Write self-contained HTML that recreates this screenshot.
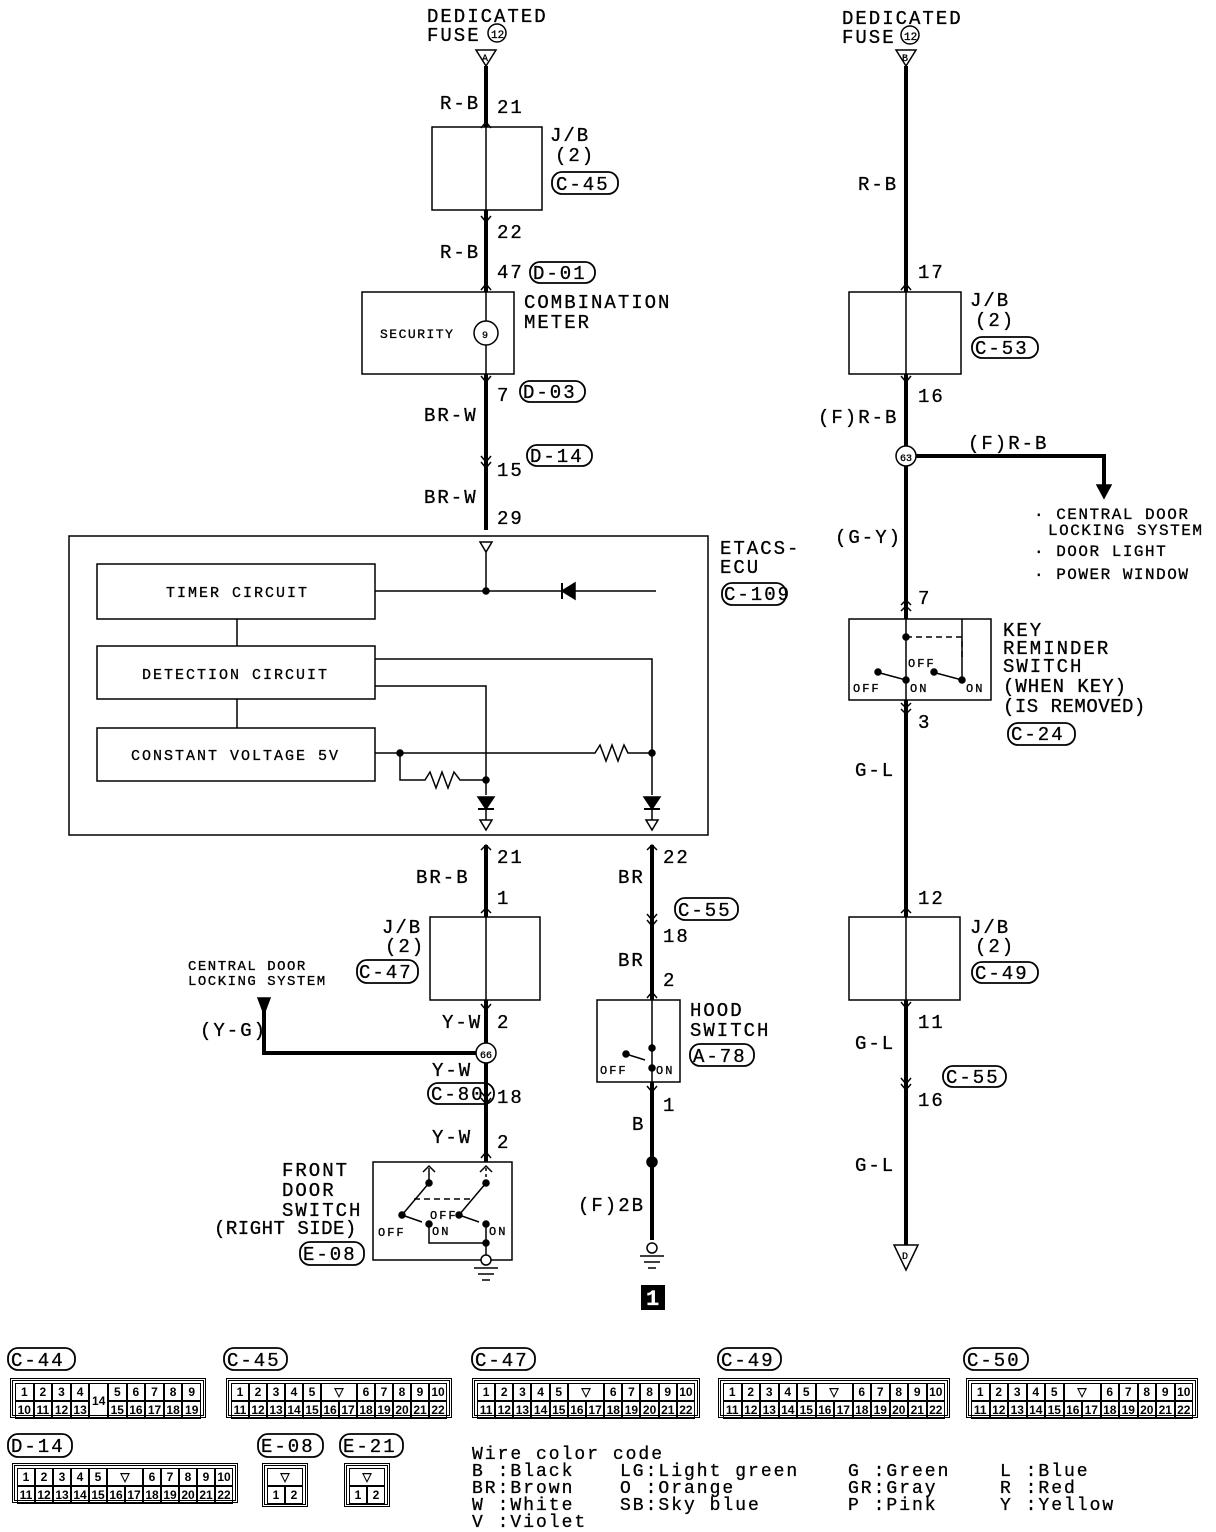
<!DOCTYPE html>
<html><head><meta charset="utf-8"><style>
body{margin:0;background:#fff;}
#w{position:relative;width:1216px;height:1532px;overflow:hidden;background:#fff;font-family:"Liberation Mono",monospace;}
svg{position:absolute;left:0;top:0;}
svg text{font-family:"Liberation Mono",monospace;font-size:19px;fill:#000;letter-spacing:2px;stroke:#000;stroke-width:0.3px;}
.cn{position:absolute;border:3px double #000;padding:2px;box-sizing:border-box;display:grid;grid-template-rows:1fr 1fr;gap:0;}
.cn span{border:1px solid #000;font-size:12px;font-weight:bold;text-align:center;line-height:16px;font-family:"Liberation Sans",sans-serif;}
</style></head><body><div id="w">
<svg width="1216" height="1532" viewBox="0 0 1216 1532">
<g stroke="#000" fill="none" stroke-width="1.5">
<line x1="486" y1="66" x2="486" y2="530" stroke-width="4"/>
<line x1="486" y1="845" x2="486" y2="1162" stroke-width="4"/>
<line x1="652" y1="845" x2="652" y2="1240" stroke-width="4"/>
<line x1="906" y1="66" x2="906" y2="1245" stroke-width="4"/>
<polygon points="476,50 496,50 486,66" fill="#fff"/>
<polygon points="896,50 916,50 906,66" fill="#fff"/>
<polygon points="894,1245 918,1245 906,1270" fill="#fff"/>
<circle cx="497" cy="33" r="9"/><circle cx="910" cy="35" r="9"/>
<rect x="432" y="127" width="110" height="83" fill="#fff"/>
<line x1="486" y1="118" x2="486" y2="222"/>
<rect x="362" y="292" width="152" height="82" fill="#fff"/>
<line x1="486" y1="284" x2="486" y2="382"/>
<circle cx="486" cy="333" r="12" fill="#fff"/>
<rect x="849" y="292" width="112" height="82" fill="#fff"/>
<line x1="906" y1="284" x2="906" y2="382"/>
<rect x="430" y="917" width="110" height="83" fill="#fff"/>
<line x1="486" y1="908" x2="486" y2="1010"/>
<rect x="849" y="917" width="111" height="83" fill="#fff"/>
<line x1="906" y1="908" x2="906" y2="1010"/>
<rect x="69" y="536" width="639" height="299" fill="#fff"/>
<polygon points="480,542 492,542 486,552"/>
<rect x="97" y="564" width="278" height="55"/>
<rect x="97" y="646" width="278" height="53"/>
<rect x="97" y="728" width="278" height="53"/>
<line x1="237" y1="619" x2="237" y2="646"/><line x1="237" y1="699" x2="237" y2="728"/>
<line x1="486" y1="552" x2="486" y2="591"/>
<polyline points="375,591 656,591"/>
<circle cx="486" cy="591" r="3" fill="#000"/>
<polygon points="575,583 575,599 562,591" fill="#000"/><line x1="562" y1="583" x2="562" y2="599" stroke-width="2"/>
<polyline points="375,659 652,659 652,795"/>
<polyline points="375,686 486,686 486,795"/>
<polyline points="375,753 595,753 600,745 606,761 612,745 618,761 624,745 628,753 652,753"/>
<circle cx="400" cy="753" r="3" fill="#000"/><circle cx="486" cy="780" r="3" fill="#000"/><circle cx="652" cy="753" r="3" fill="#000"/>
<polyline points="400,753 400,780 425,780 430,772 436,788 442,772 448,788 454,772 460,780 486,780"/>
<polygon points="478,797 494,797 486,809" fill="#000"/><line x1="478" y1="809" x2="494" y2="809" stroke-width="2"/>
<polygon points="644,797 660,797 652,809" fill="#000"/><line x1="644" y1="809" x2="660" y2="809" stroke-width="2"/>
<line x1="486" y1="809" x2="486" y2="820"/><polygon points="480,820 492,820 486,830"/>
<line x1="652" y1="809" x2="652" y2="820"/><polygon points="646,820 658,820 652,830"/>
<polyline points="906,456 1104,456 1104,488" stroke-width="4"/>
<polygon points="1097,485 1111,485 1104,498" fill="#000"/>
<circle cx="906" cy="456" r="10" fill="#fff"/>
<rect x="849" y="619" width="142" height="81" fill="#fff"/>
<polyline points="906,619 906,700"/><circle cx="906" cy="637" r="3" fill="#000"/>
<polyline points="906,637 962,637 962,660" stroke-dasharray="6,4"/><line x1="962" y1="619" x2="962" y2="677"/>
<line x1="880" y1="673" x2="906" y2="680"/><line x1="936" y1="673" x2="962" y2="680"/>
<circle cx="906" cy="680" r="3" fill="#000"/><circle cx="962" cy="680" r="3" fill="#000"/><circle cx="878" cy="672" r="3" fill="#000"/><circle cx="934" cy="672" r="3" fill="#000"/>
<polyline points="264,1008 264,1053 486,1053" stroke-width="4"/>
<polygon points="258,998 270,998 264,1014" fill="#000"/>
<circle cx="486" cy="1053" r="10" fill="#fff"/>
<rect x="373" y="1162" width="139" height="98" fill="#fff"/>
<line x1="429" y1="1168" x2="429" y2="1183"/><line x1="486" y1="1168" x2="486" y2="1183" stroke-dasharray="3,3"/>
<polyline points="423,1172 429,1166 435,1172"/><polyline points="480,1172 486,1166 492,1172"/>
<circle cx="429" cy="1183" r="3" fill="#000"/><circle cx="486" cy="1183" r="3" fill="#000"/>
<line x1="429" y1="1183" x2="402" y2="1215"/><line x1="486" y1="1183" x2="459" y2="1215"/>
<line x1="414" y1="1199" x2="470" y2="1199" stroke-dasharray="6,4"/>
<circle cx="402" cy="1215" r="3" fill="#000"/><circle cx="459" cy="1215" r="3" fill="#000"/>
<line x1="402" y1="1215" x2="422" y2="1222"/><line x1="459" y1="1215" x2="479" y2="1222"/>
<circle cx="429" cy="1224" r="3" fill="#000"/><circle cx="486" cy="1224" r="3" fill="#000"/>
<polyline points="429,1224 429,1243 486,1243"/><line x1="486" y1="1224" x2="486" y2="1255"/><circle cx="486" cy="1243" r="3" fill="#000"/>
<circle cx="486" cy="1260" r="5" fill="#fff"/>
<line x1="474" y1="1268" x2="498" y2="1268"/><line x1="478" y1="1274" x2="494" y2="1274"/><line x1="482" y1="1280" x2="490" y2="1280"/>
<rect x="597" y="1000" width="83" height="82" fill="#fff"/>
<line x1="652" y1="1000" x2="652" y2="1082"/>
<circle cx="652" cy="1048" r="3" fill="#000"/><circle cx="626" cy="1054" r="3" fill="#000"/><circle cx="652" cy="1068" r="3" fill="#000"/>
<line x1="626" y1="1054" x2="645" y2="1060"/>
<circle cx="652" cy="1162" r="5" fill="#000"/>
<circle cx="652" cy="1248" r="5" fill="#fff"/>
<line x1="640" y1="1256" x2="664" y2="1256"/><line x1="644" y1="1262" x2="660" y2="1262"/><line x1="648" y1="1268" x2="656" y2="1268"/>
<g stroke-width="1.5">
<polyline points="481,128 486,122 491,128"/><polyline points="481,216 486,222 491,216"/>
<polyline points="481,290 486,284 491,290"/><polyline points="481,376 486,382 491,376"/>
<polyline points="481,456 486,462 491,456"/><polyline points="481,462 486,468 491,462"/>
<polyline points="901,290 906,284 911,290"/><polyline points="901,376 906,382 911,376"/>
<polyline points="901,605 906,600 911,605"/><polyline points="901,611 906,606 911,611"/>
<polyline points="901,703 906,708 911,703"/><polyline points="901,709 906,714 911,709"/>
<polyline points="901,913 906,908 911,913"/><polyline points="901,1002 906,1008 911,1002"/>
<polyline points="901,1078 906,1084 911,1078"/><polyline points="901,1084 906,1090 911,1084"/>
<polyline points="481,850 486,845 491,850"/><polyline points="647,850 652,845 657,850"/>
<polyline points="481,913 486,908 491,913"/><polyline points="481,1004 486,1010 491,1004"/>
<polyline points="481,1092 486,1098 491,1092"/><polyline points="481,1098 486,1104 491,1098"/>
<polyline points="481,1158 486,1152 491,1158"/>
<polyline points="647,914 652,920 657,914"/><polyline points="647,920 652,926 657,920"/>
<polyline points="647,998 652,992 657,998"/><polyline points="647,1086 652,1092 657,1086"/>
</g>
<g stroke-width="1.8">
<rect x="552" y="172" width="66" height="22" rx="10"/>
<rect x="530" y="262" width="65" height="21" rx="10"/>
<rect x="520" y="381" width="65" height="21" rx="10"/>
<rect x="527" y="445" width="65" height="21" rx="10"/>
<rect x="722" y="583" width="64" height="22" rx="10"/>
<rect x="972" y="337" width="66" height="21" rx="10"/>
<rect x="1008" y="723" width="67" height="22" rx="10"/>
<rect x="972" y="962" width="66" height="21" rx="10"/>
<rect x="943" y="1066" width="63" height="21" rx="10"/>
<rect x="357" y="960" width="61" height="23" rx="10"/>
<rect x="428" y="1083" width="66" height="21" rx="10"/>
<rect x="300" y="1242" width="64" height="23" rx="10"/>
<rect x="675" y="898" width="63" height="22" rx="10"/>
<rect x="690" y="1044" width="64" height="22" rx="10"/>
<rect x="8" y="1348" width="67" height="22" rx="10"/>
<rect x="224" y="1348" width="63" height="22" rx="10"/>
<rect x="472" y="1348" width="63" height="22" rx="10"/>
<rect x="718" y="1348" width="63" height="22" rx="10"/>
<rect x="964" y="1348" width="64" height="22" rx="10"/>
<rect x="8" y="1434" width="64" height="23" rx="10"/>
<rect x="258" y="1434" width="65" height="23" rx="10"/>
<rect x="340" y="1434" width="63" height="23" rx="10"/>
</g>
</g>
<rect x="641" y="1285" width="24" height="25" fill="#000"/>
<text x="646" y="1305" style="fill:#fff;stroke:#fff;font-weight:bold;font-size:22px">1</text>
<g>
<text x="427" y="22">DEDICATED</text><text x="427" y="41">FUSE</text>
<text x="842" y="24">DEDICATED</text><text x="842" y="43">FUSE</text>
<text x="491" y="38" style="font-size:11px;letter-spacing:0">12</text><text x="904" y="40" style="font-size:11px;letter-spacing:0">12</text>
<text x="482" y="61" style="font-size:10px">A</text><text x="902" y="61" style="font-size:10px">B</text><text x="902" y="1259" style="font-size:10px">D</text>
<text x="440" y="109">R-B</text><text x="497" y="113">21</text>
<text x="550" y="141">J/B</text><text x="555" y="161">(2)</text><text x="556" y="190">C-45</text>
<text x="497" y="238">22</text><text x="440" y="258">R-B</text><text x="497" y="278">47</text><text x="533" y="279">D-01</text>
<text x="524" y="308">COMBINATION</text><text x="524" y="328">METER</text>
<text x="380" y="338" style="font-size:13px;letter-spacing:1.5px">SECURITY</text><text x="482" y="338" style="font-size:10px">9</text>
<text x="497" y="401">7</text><text x="523" y="398">D-03</text>
<text x="424" y="421">BR-W</text><text x="497" y="476">15</text><text x="530" y="462">D-14</text>
<text x="424" y="503">BR-W</text><text x="497" y="524">29</text>
<text x="720" y="554">ETACS-</text><text x="720" y="573">ECU</text><text x="724" y="600">C-109</text>
<text x="166" y="597" style="font-size:15px">TIMER CIRCUIT</text>
<text x="142" y="679" style="font-size:15px">DETECTION CIRCUIT</text>
<text x="131" y="760" style="font-size:15px">CONSTANT VOLTAGE 5V</text>
<text x="497" y="863">21</text><text x="416" y="883">BR-B</text><text x="497" y="904">1</text>
<text x="382" y="933">J/B</text><text x="385" y="952">(2)</text><text x="359" y="978">C-47</text>
<text x="188" y="970" style="font-size:14px;letter-spacing:1.5px">CENTRAL DOOR</text><text x="188" y="985" style="font-size:14px;letter-spacing:1.5px">LOCKING SYSTEM</text>
<text x="442" y="1028">Y-W</text><text x="497" y="1028">2</text><text x="200" y="1036">(Y-G)</text>
<text x="480" y="1058" style="font-size:10px;letter-spacing:0">66</text>
<text x="432" y="1076">Y-W</text><text x="431" y="1100">C-80</text><text x="497" y="1103">18</text>
<text x="432" y="1143">Y-W</text><text x="497" y="1148">2</text>
<text x="282" y="1176">FRONT</text><text x="282" y="1196">DOOR</text><text x="282" y="1216">SWITCH</text><text x="214" y="1234" style="letter-spacing:0.5px">(RIGHT SIDE)</text>
<text x="303" y="1260">E-08</text>
<text x="378" y="1236" style="font-size:12px">OFF</text><text x="430" y="1219" style="font-size:12px">OFF</text><text x="432" y="1235" style="font-size:12px">ON</text><text x="489" y="1235" style="font-size:12px">ON</text>
<text x="663" y="863">22</text><text x="618" y="883">BR</text><text x="678" y="916">C-55</text><text x="663" y="942">18</text>
<text x="618" y="966">BR</text><text x="663" y="986">2</text>
<text x="690" y="1016">HOOD</text><text x="690" y="1036">SWITCH</text><text x="693" y="1062">A-78</text>
<text x="600" y="1074" style="font-size:12px">OFF</text><text x="656" y="1074" style="font-size:12px">ON</text>
<text x="663" y="1111">1</text><text x="632" y="1130">B</text><text x="578" y="1211">(F)2B</text>
<text x="858" y="190">R-B</text><text x="918" y="278">17</text>
<text x="970" y="306">J/B</text><text x="975" y="326">(2)</text><text x="975" y="354">C-53</text>
<text x="918" y="402">16</text><text x="818" y="423">(F)R-B</text><text x="968" y="449">(F)R-B</text>
<text x="900" y="461" style="font-size:10px;letter-spacing:0">63</text>
<text x="1034" y="519" style="font-size:16px;letter-spacing:1.5px">· CENTRAL DOOR</text><text x="1048" y="535" style="font-size:16px;letter-spacing:1.5px">LOCKING SYSTEM</text>
<text x="1034" y="556" style="font-size:16px;letter-spacing:1.5px">· DOOR LIGHT</text><text x="1034" y="579" style="font-size:16px;letter-spacing:1.5px">· POWER WINDOW</text>
<text x="835" y="543">(G-Y)</text><text x="918" y="604">7</text>
<text x="1003" y="636">KEY</text><text x="1003" y="654">REMINDER</text><text x="1003" y="672">SWITCH</text><text x="1003" y="692" style="letter-spacing:1px">(WHEN KEY)</text><text x="1003" y="712" style="letter-spacing:0.5px">(IS REMOVED)</text>
<text x="1011" y="740">C-24</text>
<text x="853" y="692" style="font-size:12px">OFF</text><text x="908" y="667" style="font-size:12px">OFF</text><text x="910" y="692" style="font-size:12px">ON</text><text x="966" y="692" style="font-size:12px">ON</text>
<text x="918" y="728">3</text><text x="855" y="776">G-L</text><text x="918" y="904">12</text>
<text x="970" y="933">J/B</text><text x="975" y="952">(2)</text><text x="975" y="979">C-49</text>
<text x="918" y="1028">11</text><text x="855" y="1049">G-L</text><text x="946" y="1083">C-55</text><text x="918" y="1106">16</text><text x="855" y="1171">G-L</text>
<text x="11" y="1366">C-44</text><text x="227" y="1366">C-45</text><text x="475" y="1366">C-47</text><text x="721" y="1366">C-49</text><text x="967" y="1366">C-50</text>
<text x="11" y="1452">D-14</text><text x="261" y="1452">E-08</text><text x="343" y="1452">E-21</text>
<text x="472" y="1459" style="font-size:18px">Wire color code</text>
<text x="472" y="1476" style="font-size:18px">B :Black</text><text x="472" y="1493" style="font-size:18px">BR:Brown</text><text x="472" y="1510" style="font-size:18px">W :White</text><text x="472" y="1527" style="font-size:18px">V :Violet</text>
<text x="620" y="1476" style="font-size:18px">LG:Light green</text><text x="620" y="1493" style="font-size:18px">O :Orange</text><text x="620" y="1510" style="font-size:18px">SB:Sky blue</text>
<text x="848" y="1476" style="font-size:18px">G :Green</text><text x="848" y="1493" style="font-size:18px">GR:Gray</text><text x="848" y="1510" style="font-size:18px">P :Pink</text>
<text x="1000" y="1476" style="font-size:18px">L :Blue</text><text x="1000" y="1493" style="font-size:18px">R :Red</text><text x="1000" y="1510" style="font-size:18px">Y :Yellow</text>
</g>
</svg>
<div class="cn" style="left:10px;top:1378px;width:196px;height:40px;grid-template-columns:repeat(10,1fr)">
<span>1</span><span>2</span><span>3</span><span>4</span><span style="grid-row:1/3;grid-column:5;line-height:34px">14</span><span>5</span><span>6</span><span>7</span><span>8</span><span>9</span>
<span>10</span><span>11</span><span>12</span><span>13</span><span>15</span><span>16</span><span>17</span><span>18</span><span>19</span></div>
<div class="cn" style="left:226px;top:1378px;width:226px;height:40px;grid-template-columns:repeat(12,1fr)">
<span>1</span><span>2</span><span>3</span><span>4</span><span>5</span><span style="grid-column:6/8">▽</span><span>6</span><span>7</span><span>8</span><span>9</span><span>10</span>
<span>11</span><span>12</span><span>13</span><span>14</span><span>15</span><span>16</span><span>17</span><span>18</span><span>19</span><span>20</span><span>21</span><span>22</span></div>
<div class="cn" style="left:472px;top:1378px;width:228px;height:40px;grid-template-columns:repeat(12,1fr)">
<span>1</span><span>2</span><span>3</span><span>4</span><span>5</span><span style="grid-column:6/8">▽</span><span>6</span><span>7</span><span>8</span><span>9</span><span>10</span>
<span>11</span><span>12</span><span>13</span><span>14</span><span>15</span><span>16</span><span>17</span><span>18</span><span>19</span><span>20</span><span>21</span><span>22</span></div>
<div class="cn" style="left:718px;top:1378px;width:232px;height:40px;grid-template-columns:repeat(12,1fr)">
<span>1</span><span>2</span><span>3</span><span>4</span><span>5</span><span style="grid-column:6/8">▽</span><span>6</span><span>7</span><span>8</span><span>9</span><span>10</span>
<span>11</span><span>12</span><span>13</span><span>14</span><span>15</span><span>16</span><span>17</span><span>18</span><span>19</span><span>20</span><span>21</span><span>22</span></div>
<div class="cn" style="left:966px;top:1378px;width:232px;height:40px;grid-template-columns:repeat(12,1fr)">
<span>1</span><span>2</span><span>3</span><span>4</span><span>5</span><span style="grid-column:6/8">▽</span><span>6</span><span>7</span><span>8</span><span>9</span><span>10</span>
<span>11</span><span>12</span><span>13</span><span>14</span><span>15</span><span>16</span><span>17</span><span>18</span><span>19</span><span>20</span><span>21</span><span>22</span></div>
<div class="cn" style="left:12px;top:1463px;width:226px;height:40px;grid-template-columns:repeat(12,1fr)">
<span>1</span><span>2</span><span>3</span><span>4</span><span>5</span><span style="grid-column:6/8">▽</span><span>6</span><span>7</span><span>8</span><span>9</span><span>10</span>
<span>11</span><span>12</span><span>13</span><span>14</span><span>15</span><span>16</span><span>17</span><span>18</span><span>19</span><span>20</span><span>21</span><span>22</span></div>
<div class="cn" style="left:262px;top:1463px;width:46px;height:44px;grid-template-columns:1fr 1fr">
<span style="grid-column:1/3">▽</span><span>1</span><span>2</span></div>
<div class="cn" style="left:344px;top:1463px;width:46px;height:44px;grid-template-columns:1fr 1fr">
<span style="grid-column:1/3">▽</span><span>1</span><span>2</span></div>
</div></body></html>
